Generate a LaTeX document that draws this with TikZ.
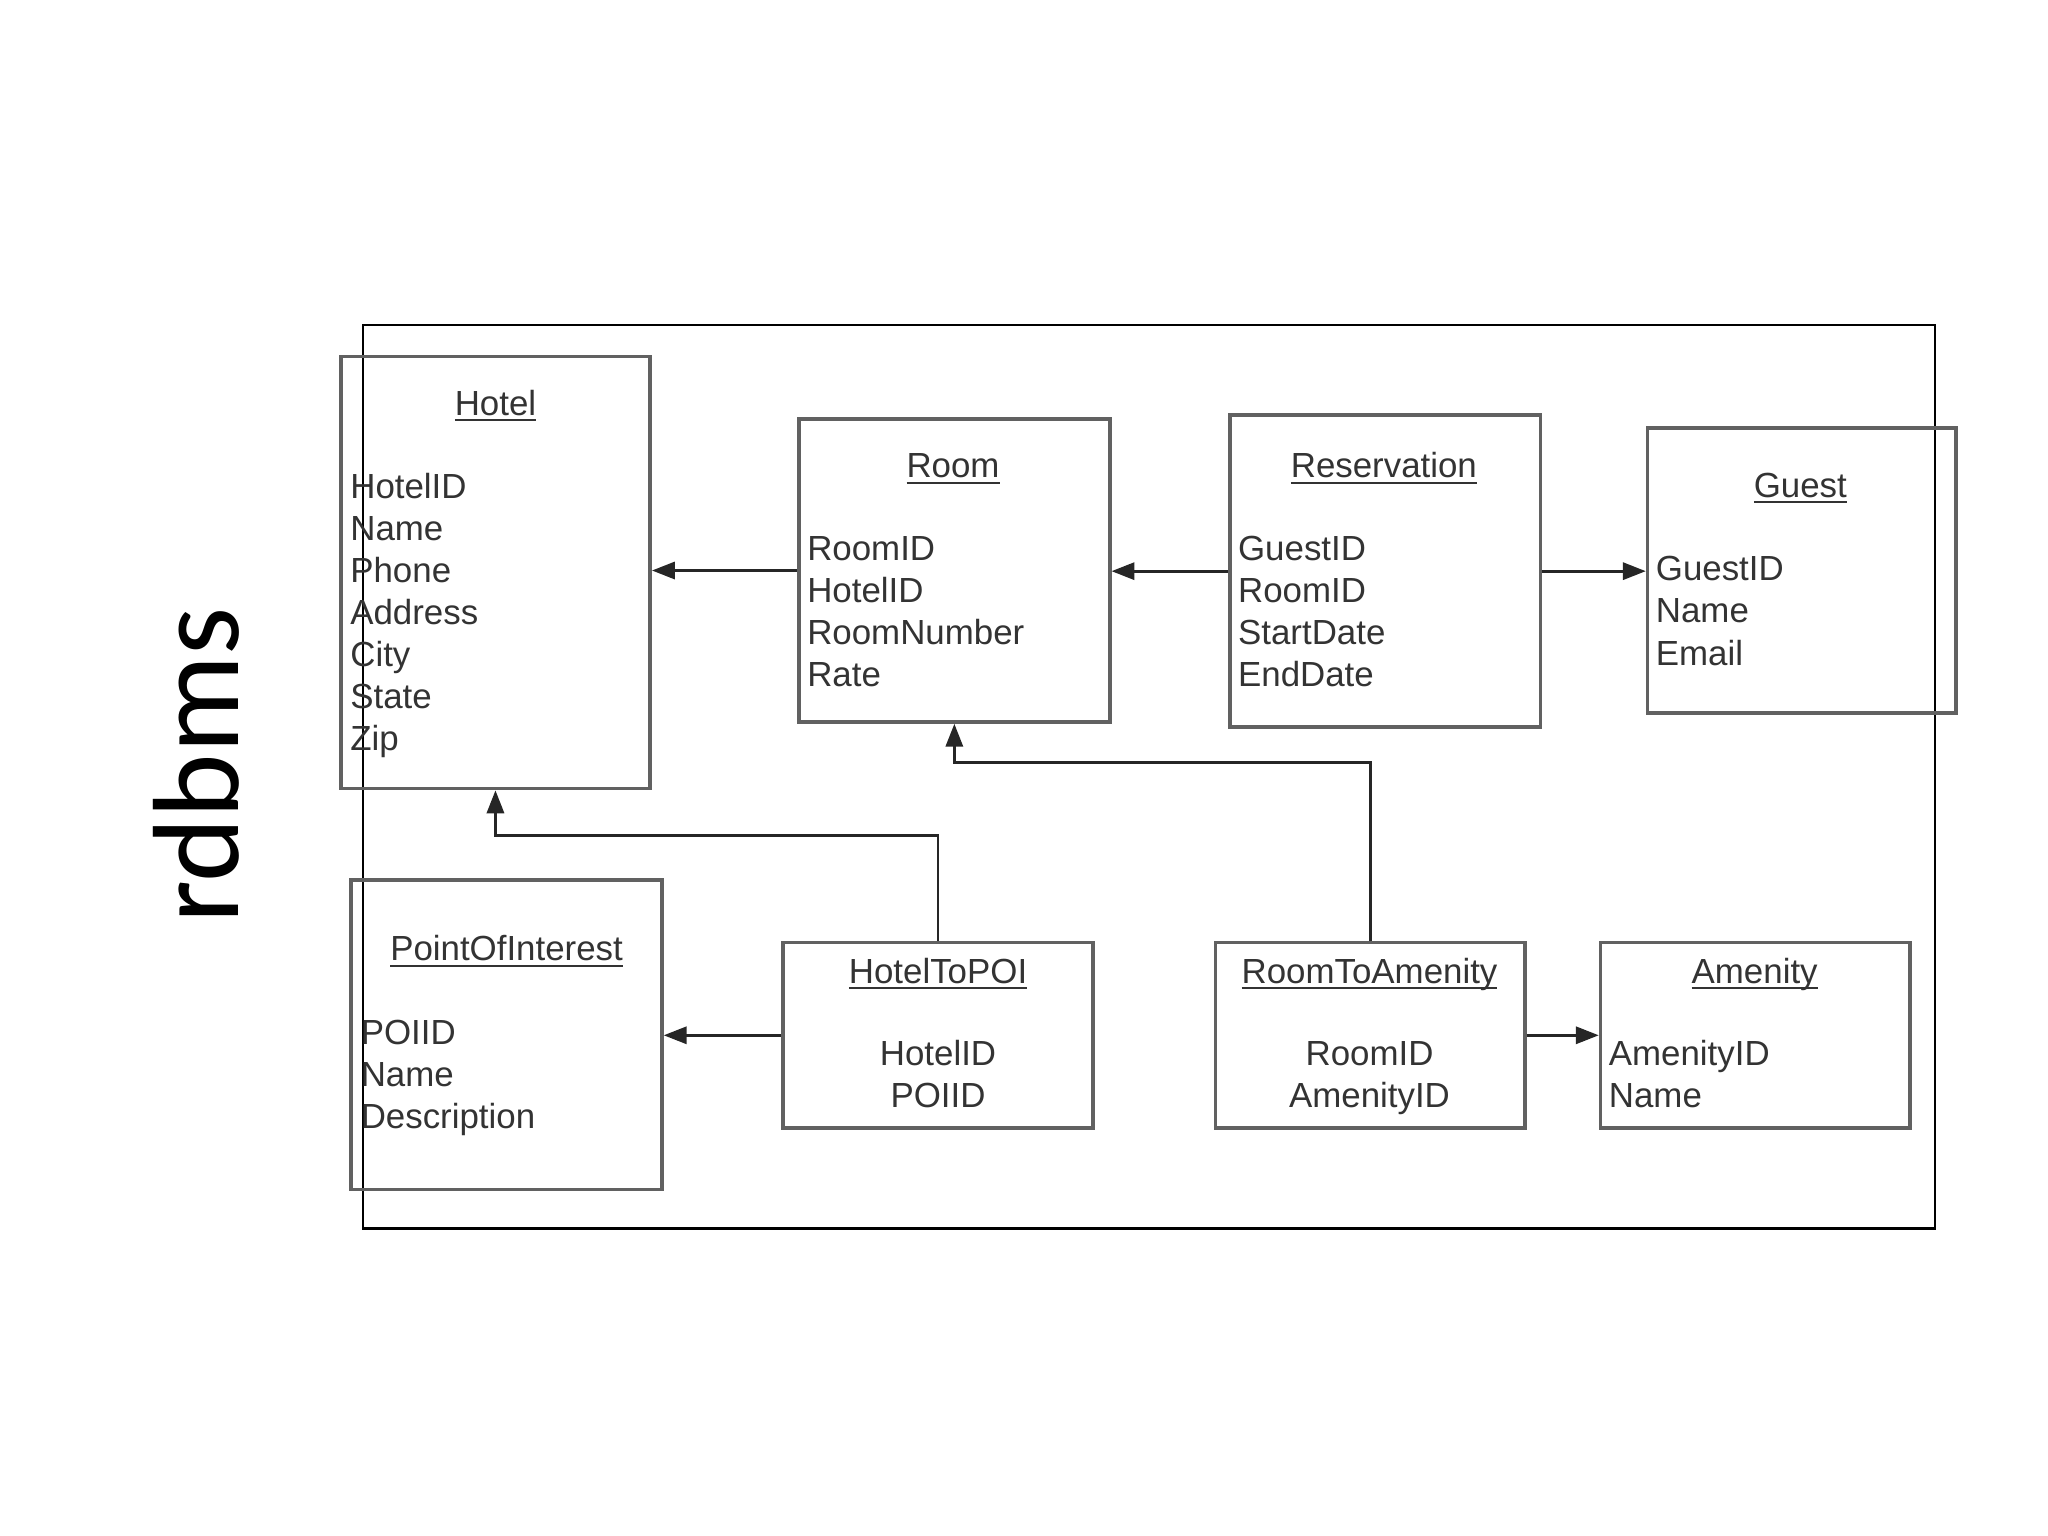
\documentclass[tikz,border=0pt]{standalone}
\usepackage{fontspec}
\setmainfont{Liberation Sans}
\newfontfamily\labelfont{Carlito}
\usetikzlibrary{arrows.meta,fit}

% underlined table name
\newcommand{\entname}[1]{\setbox0\hbox{#1}\rlap{\rule[-2.6pt]{\wd0}{0.9pt}}\box0}

\begin{document}
\begin{tikzpicture}[x=0.02cm, y=-0.02cm,
    entity/.style={draw=black!62, line width=1.6pt, inner sep=0pt},
    title/.style={anchor=base, inner sep=0pt, text=black!80, font=\fontsize{15.2}{18}\selectfont},
    field/.style={anchor=base west, inner sep=0pt, text=black!80, font=\fontsize{15.2}{18}\selectfont},
    link/.style={draw=black!85, line width=1.2pt, -{Triangle[length=10pt,width=7.5pt]}}]
    \useasboundingbox (0,0) rectangle (1568.7,1176.5);

    % Slide label
    \node[rotate=90, anchor=base west, inner sep=0pt, font=\labelfont\fontsize{53.5}{60}\selectfont] (label) at (183,708) {rdbms};

    % Outer frame
    \node[draw=black, line width=1.1pt, inner sep=0pt, fit={(278,249) (1482,941)}] (frame) {};

    % Top row of tables
    \node[entity, fit={(261,273) (498,604)}] (hotel) {};
    \node[title] (hotel-t) at (379.5,318) {\entname{Hotel}};
    \foreach \f [count=\i from 0] in {HotelID,Name,Phone,Address,City,State,Zip}
        \node[field] (hotel-\i) at (268,{382+32.2*\i}) {\f};

    \node[entity, fit={(612,321) (850,553)}] (room) {};
    \node[title] (room-t) at (730,366) {\entname{Room}};
    \foreach \f [count=\i from 0] in {RoomID,HotelID,RoomNumber,Rate}
        \node[field] (room-\i) at (618,{429+32.2*\i}) {\f};

    \node[entity, fit={(942,318) (1180,557)}] (res) {};
    \node[title] (res-t) at (1060,366) {\entname{Reservation}};
    \foreach \f [count=\i from 0] in {GuestID,RoomID,StartDate,EndDate}
        \node[field] (res-\i) at (948,{429+32.2*\i}) {\f};

    \node[entity, fit={(1262,328) (1498,546)}] (guest) {};
    \node[title] (guest-t) at (1379,381) {\entname{Guest}};
    \foreach \f [count=\i from 0] in {GuestID,Name,Email}
        \node[field] (guest-\i) at (1268,{445+32.2*\i}) {\f};

    % Bottom row of tables
    \node[entity, fit={(269,674) (507,911)}] (poi) {};
    \node[title] (poi-t) at (388,736) {\entname{PointOfInterest}};
    \foreach \f [count=\i from 0] in {POIID,Name,Description}
        \node[field] (poi-\i) at (276,{800+32.2*\i}) {\f};

    \node[entity, fit={(600,722) (837,864)}] (h2p) {};
    \node[title] (h2p-t) at (718.5,753) {\entname{HotelToPOI}};
    \node[title] (h2p-0) at (718.5,816) {HotelID};
    \node[title] (h2p-1) at (718.5,848) {POIID};

    \node[entity, fit={(931,722) (1168,864)}] (r2a) {};
    \node[title] (r2a-t) at (1049,753) {\entname{RoomToAmenity}};
    \node[title] (r2a-0) at (1049,816) {RoomID};
    \node[title] (r2a-1) at (1049,848) {AmenityID};

    \node[entity, fit={(1226,722) (1463,864)}] (amen) {};
    \node[title] (amen-t) at (1344,753) {\entname{Amenity}};
    \foreach \f [count=\i from 0] in {AmenityID,Name}
        \node[field] (amen-\i) at (1232,{816+32.2*\i}) {\f};

    % Foreign keys
    \coordinate (bendA) at (379.5,640);
    \coordinate (bendB) at (731,584);
    \draw[link] (room.west) -- (room.west -| hotel.east);
    \draw[link] (res.west) -- (res.west -| room.east);
    \draw[link] (res.east) -- (res.east -| guest.west);
    \draw[link] (h2p.north) |- (bendA) -- (hotel.south);
    \draw[link] (r2a.north) |- (bendB) -- (room.south);
    \draw[link] (h2p.west) -- (h2p.west -| poi.east);
    \draw[link] (r2a.east) -- (r2a.east -| amen.west);
\end{tikzpicture}
\end{document}
